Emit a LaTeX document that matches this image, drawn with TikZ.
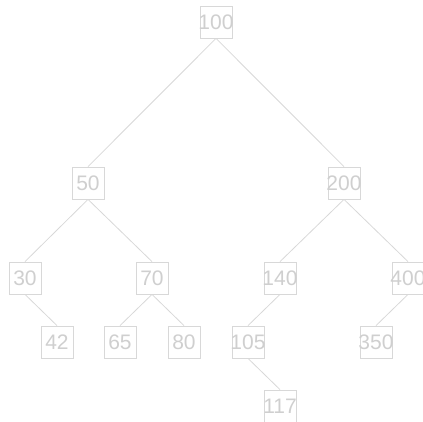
\documentclass[tikz,border=0pt]{standalone}
\usepackage{fontspec}
\setmainfont{Liberation Sans}
\usetikzlibrary{backgrounds}
\definecolor{boxline}{HTML}{D8D8D8}
\definecolor{boxtext}{HTML}{CFCFCF}
\newcommand{\fitbox}[1]{\makebox[32pt][c]{#1}}
\begin{document}
\begin{tikzpicture}[x=1pt,y=-1pt,
  tnode/.style={draw=boxline,fill=white,minimum width=32pt,minimum height=32pt,inner sep=0pt,text=boxtext,font=\fontsize{21}{21}\selectfont,line width=0.8pt},
  edge/.style={draw=boxline,line width=0.8pt}]
\useasboundingbox (0,0) rectangle (423,421);
\node[tnode] (n100) at (216,22) {\fitbox{100}};
\node[tnode] (n50) at (88,183) {\fitbox{50}};
\node[tnode] (n200) at (344,183) {\fitbox{200}};
\node[tnode] (n30) at (25,278) {\fitbox{30}};
\node[tnode] (n70) at (152,278) {\fitbox{70}};
\node[tnode] (n140) at (280,278) {\fitbox{140}};
\node[tnode] (n400) at (408,278) {\fitbox{400}};
\node[tnode] (n42) at (57,342) {\fitbox{42}};
\node[tnode] (n65) at (120,342) {\fitbox{65}};
\node[tnode] (n80) at (184,342) {\fitbox{80}};
\node[tnode] (n105) at (248,342) {\fitbox{105}};
\node[tnode] (n350) at (376,342) {\fitbox{350}};
\node[tnode] (n117) at (280,406) {\fitbox{117}};
\begin{scope}[on background layer]
\draw[edge] (n100.south) -- (n50.north);
\draw[edge] (n100.south) -- (n200.north);
\draw[edge] (n50.south) -- (n30.north);
\draw[edge] (n50.south) -- (n70.north);
\draw[edge] (n200.south) -- (n140.north);
\draw[edge] (n200.south) -- (n400.north);
\draw[edge] (n30.south) -- (n42.north);
\draw[edge] (n70.south) -- (n65.north);
\draw[edge] (n70.south) -- (n80.north);
\draw[edge] (n140.south) -- (n105.north);
\draw[edge] (n400.south) -- (n350.north);
\draw[edge] (n105.south) -- (n117.north);
\end{scope}
\end{tikzpicture}
\end{document}
